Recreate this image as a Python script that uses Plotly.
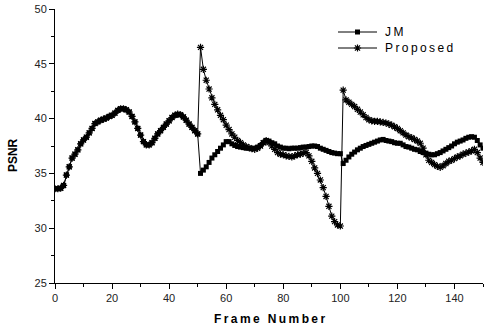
import plotly.graph_objects as go

# Frame indices 0..150
frames = list(range(0, 151))

# Frames 0-50: both encoders produce the same PSNR
common = [
    33.6, 33.6, 33.65, 33.9, 34.85, 35.6, 36.4, 36.75, 37.15, 37.7,
    38.05, 38.3, 38.7, 39.1, 39.55, 39.7, 39.85, 39.95, 40.05, 40.2,
    40.3, 40.5, 40.75, 40.9, 40.9, 40.8, 40.6, 40.2, 39.7, 39.1,
    38.5, 37.9, 37.6, 37.6, 37.8, 38.2, 38.6, 38.9, 39.2, 39.5,
    39.8, 40.1, 40.3, 40.4, 40.35, 40.15, 39.85, 39.5, 39.2, 38.9,
    38.6,
]

jm_tail = [
    35.0, 35.3, 35.6, 36.0, 36.4, 36.7, 37.0, 37.3, 37.6, 37.9,      # 51-60
    37.9, 37.7, 37.55, 37.45, 37.4, 37.35, 37.3, 37.3, 37.25, 37.3,  # 61-70
    37.4, 37.55, 37.8, 38.0, 37.95, 37.8, 37.7, 37.5, 37.4, 37.3,    # 71-80
    37.3, 37.25, 37.3, 37.3, 37.3, 37.35, 37.4, 37.4, 37.45, 37.5,   # 81-90
    37.5, 37.45, 37.3, 37.2, 37.1, 37.0, 36.9, 36.85, 36.8, 36.8,    # 91-100
    35.9, 36.2, 36.5, 36.75, 36.95, 37.15, 37.3, 37.45, 37.55, 37.65,  # 101-110
    37.75, 37.85, 37.95, 38.05, 38.1, 38.0, 37.95, 37.9, 37.8, 37.75,  # 111-120
    37.75, 37.6, 37.45, 37.4, 37.3, 37.2, 37.15, 37.0, 36.9, 36.85,    # 121-130
    36.75, 36.7, 36.7, 36.8, 36.9, 37.05, 37.2, 37.35, 37.5, 37.7,     # 131-140
    37.85, 37.95, 38.05, 38.2, 38.3, 38.35, 38.3, 38.0, 37.6, 37.3,    # 141-150
]

proposed_tail = [
    46.5, 44.5, 43.5, 42.7, 41.9, 41.3, 40.8, 40.3, 39.9, 39.4,        # 51-60
    39.0, 38.6, 38.3, 38.0, 37.8, 37.6, 37.45, 37.35, 37.25, 37.2,     # 61-70
    37.3, 37.5, 37.8, 38.0, 37.8, 37.5, 37.2, 36.9, 36.75, 36.7,       # 71-80
    36.6, 36.55, 36.5, 36.6, 36.7, 36.75, 36.85, 36.9, 36.6, 36.1,     # 81-90
    35.5, 35.0, 34.4, 33.7, 32.9, 32.0, 31.1, 30.6, 30.3, 30.2,        # 91-100
    42.6, 41.7, 41.5, 41.3, 41.1, 40.85, 40.6, 40.35, 40.1, 39.9,      # 101-110
    39.8, 39.75, 39.75, 39.7, 39.65, 39.6, 39.5, 39.4, 39.25, 39.1,    # 111-120
    38.9, 38.7, 38.5, 38.35, 38.25, 38.1, 37.95, 37.75, 37.3, 36.7,    # 121-130
    36.2, 36.0, 35.8, 35.65, 35.55, 35.7, 35.9, 36.1, 36.2, 36.35,     # 131-140
    36.5, 36.6, 36.75, 36.85, 36.95, 37.05, 37.2, 36.9, 36.4, 36.0,    # 141-150
]

jm = common + jm_tail
proposed = common + proposed_tail

x_ticks = [0, 20, 40, 60, 80, 100, 120, 140]
y_ticks = [25, 30, 35, 40, 45, 50]

series_names = ["JM", "Proposed"]

FONT = "Liberation Sans, Arial, sans-serif"
thin = "\u2009"

jm_marker = dict(symbol="square", size=5, color="black")
prop_marker = dict(symbol="asterisk-open", size=6, color="black",
                   line=dict(color="black", width=1.2))

fig = go.Figure()

fig.add_trace(go.Scatter(
    x=frames, y=proposed, name=series_names[1], mode="lines+markers",
    line=dict(color="black", width=1), marker=prop_marker, showlegend=False,
))
fig.add_trace(go.Scatter(
    x=frames, y=jm, name=series_names[0], mode="lines+markers",
    line=dict(color="black", width=1), marker=jm_marker, showlegend=False,
))

# Legend key drawn on an overlay axis measured in pixels of the plot area
key_rows = [32, 48]
key_x = [338, 357.5, 377]
for row, name, mk in zip(key_rows, series_names, [jm_marker, prop_marker]):
    fig.add_trace(go.Scatter(
        x=key_x, y=[row] * 3, mode="lines", xaxis="x2", yaxis="y2",
        line=dict(color="black", width=1), showlegend=False, hoverinfo="skip",
    ))
    fig.add_trace(go.Scatter(
        x=[key_x[1]], y=[row], mode="markers", xaxis="x2", yaxis="y2",
        marker=mk, showlegend=False, hoverinfo="skip",
    ))
    fig.add_annotation(
        text=thin.join(name), xref="x2", yref="y2", x=383, y=row,
        xanchor="left", yanchor="middle", showarrow=False,
        font=dict(family=FONT, size=12, color="black"),
    )

axis_common = dict(
    showgrid=False, zeroline=False, showline=True, linecolor="black",
    linewidth=1, ticks="outside", ticklen=5, tickwidth=1, tickcolor="black",
    tickfont=dict(family=FONT, size=11, color="#222"),
    mirror=False,
)

fig.update_xaxes(
    range=[0, 150], tickvals=x_ticks,
    minor=dict(ticks="outside", ticklen=3, tickwidth=1, tickcolor="black",
               dtick=10, tick0=0),
    **axis_common,
)
fig.update_yaxes(
    range=[25, 50], tickvals=y_ticks,
    minor=dict(ticks="outside", ticklen=3, tickwidth=1, tickcolor="black",
               dtick=2.5, tick0=25),
    **axis_common,
)

fig.add_annotation(
    text="<b>" + thin.join("Frame Number") + "</b>",
    xref="paper", yref="paper", x=0.5, y=-0.1, yanchor="top",
    showarrow=False, font=dict(family=FONT, size=12, color="black"),
)
fig.add_annotation(
    text="<b>PSNR</b>", xref="paper", yref="paper",
    x=-0.098, y=0.467, textangle=-90, xanchor="center", yanchor="middle",
    showarrow=False, font=dict(family=FONT, size=12, color="black"),
)

fig.update_layout(
    width=484, height=328,
    margin=dict(l=55, r=1, t=9, b=45),
    plot_bgcolor="white", paper_bgcolor="white",
    showlegend=False,
    xaxis2=dict(overlaying="x", range=[55, 483], visible=False,
                fixedrange=True),
    yaxis2=dict(overlaying="y", range=[283, 9], visible=False,
                fixedrange=True),
)

fig.write_html("out.html")
